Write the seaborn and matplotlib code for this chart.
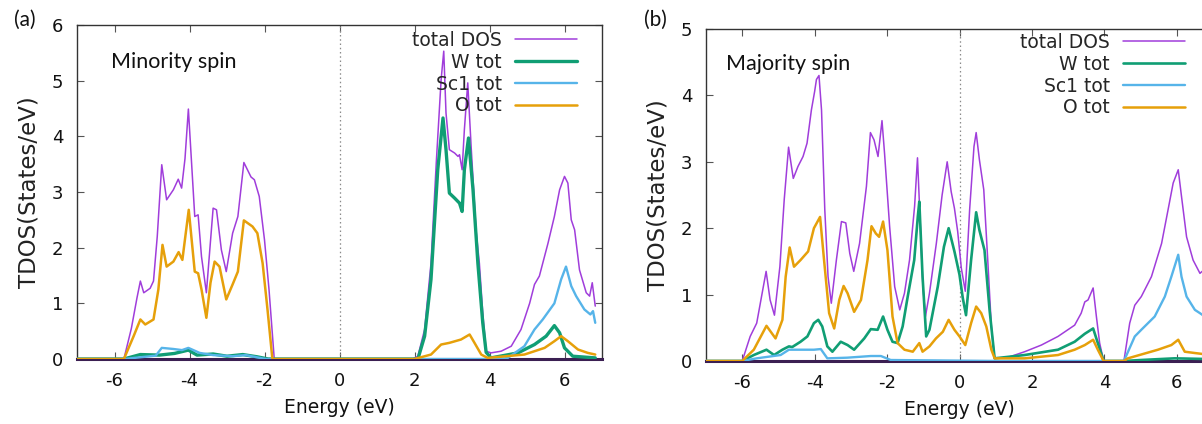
import matplotlib
matplotlib.use("Agg")
import matplotlib.pyplot as plt
import seaborn as sns

# ---------------- data: (a) minority spin ----------------
min_total_x = [-7.0, -5.75, -5.55, -5.40, -5.31, -5.22, -5.05, -4.96, -4.86, -4.74, -4.61, -4.43, -4.30, -4.21,
               -4.12, -4.03, -3.86, -3.77, -3.68, -3.55, -3.37, -3.28, -3.15, -3.02, -2.85, -2.71, -2.55, -2.36,
               -2.27, -2.14, -2.00, -1.88, -1.74, 1.95, 2.09, 2.27, 2.44, 2.58, 2.71, 2.78, 2.84, 2.93, 3.07, 3.16,
               3.20, 3.27, 3.33, 3.42, 3.51, 3.64, 3.73, 3.82, 3.91, 4.04, 4.31, 4.58, 4.84, 5.07, 5.20, 5.33, 5.56,
               5.73, 5.87, 6.00, 6.09, 6.18, 6.27, 6.40, 6.58, 6.67, 6.74, 6.82]
min_total_y = [0, 0, 0.55, 1.10, 1.40, 1.19, 1.27, 1.40, 2.20, 3.49, 2.86, 3.04, 3.23, 3.07,
               3.60, 4.49, 2.56, 2.59, 1.84, 1.19, 2.71, 2.68, 1.96, 1.57, 2.26, 2.56, 3.53, 3.27,
               3.22, 2.92, 2.14, 1.25, 0, 0, 0.05, 0.53, 1.72, 3.52, 5.02, 5.53, 4.42, 3.76, 3.70, 3.64,
               3.67, 3.40, 4.12, 4.96, 3.82, 2.32, 1.72, 0.83, 0.14, 0.11, 0.14, 0.23, 0.53, 1.00, 1.34, 1.49, 2.08,
               2.56, 3.04, 3.28, 3.16, 2.50, 2.32, 1.60, 1.19, 1.13, 1.37, 0.95]

min_w_x = [-7.0, -5.75, -5.31, -4.8, -4.4, -4.03, -3.8, -3.37, -3.0, -2.58, -2.2, -1.9, 1.95, 2.09, 2.27, 2.44,
           2.62, 2.76, 2.84, 2.93, 3.07, 3.20, 3.27, 3.33, 3.44, 3.56, 3.69, 3.82, 3.91, 4.04, 4.76, 5.20, 5.51,
           5.73, 5.87, 6.00, 6.22, 6.82]
min_w_y = [0, 0, 0.08, 0.07, 0.10, 0.16, 0.07, 0.09, 0.05, 0.08, 0.04, 0, 0, 0, 0.41, 1.43,
           3.40, 4.33, 3.76, 2.98, 2.89, 2.80, 2.65, 3.40, 3.97, 3.04, 1.72, 0.65, 0.12, 0.02, 0.11, 0.26, 0.41,
           0.60, 0.47, 0.20, 0.05, 0.02]

min_sc_x = [-7.0, -5.75, -4.9, -4.74, -4.43, -4.2, -4.03, -3.73, -3.37, -2.85, -2.5, -1.97,
            4.3, 4.49, 4.93, 5.20, 5.42, 5.73, 5.91, 6.04, 6.18, 6.31, 6.53, 6.69, 6.76, 6.82]
min_sc_y = [0, 0, 0.06, 0.20, 0.18, 0.16, 0.20, 0.11, 0.07, 0.05, 0.07, 0,
            0, 0.02, 0.23, 0.53, 0.71, 1.00, 1.43, 1.66, 1.31, 1.13, 0.89, 0.80, 0.86, 0.65]

min_o_x = [-7.0, -5.75, -5.49, -5.31, -5.18, -4.96, -4.83, -4.72, -4.61, -4.43, -4.29, -4.19, -4.10, -4.02,
           -3.86, -3.77, -3.68, -3.55, -3.44, -3.33, -3.20, -3.02, -2.85, -2.71, -2.55, -2.32, -2.19, -2.05,
           -1.92, -1.79, 2.0, 2.44, 2.71, 2.93, 3.24, 3.47, 3.60, 3.78, 3.95, 4.93, 5.47, 5.73, 5.91, 6.09,
           6.36, 6.62, 6.82]
min_o_y = [0, 0, 0.41, 0.71, 0.62, 0.71, 1.25, 2.05, 1.66, 1.75, 1.92, 1.78, 2.26, 2.68,
           1.57, 1.54, 1.25, 0.74, 1.37, 1.75, 1.66, 1.07, 1.34, 1.57, 2.49, 2.38, 2.26, 1.72,
           0.89, 0, 0, 0.08, 0.26, 0.29, 0.35, 0.44, 0.29, 0.08, 0.02, 0.08, 0.20, 0.32, 0.41, 0.32,
           0.17, 0.11, 0.08]

# ---------------- data: (b) majority spin ----------------
maj_total_x = [-7.0, -6.0, -5.78, -5.60, -5.34, -5.23, -5.11, -4.96, -4.84, -4.72, -4.59, -4.46, -4.32, -4.21,
               -4.09, -4.00, -3.95, -3.88, -3.81, -3.72, -3.63, -3.54, -3.40, -3.26, -3.14, -3.03, -2.92, -2.76,
               -2.57, -2.46, -2.36, -2.25, -2.14, -2.07, -1.93, -1.79, -1.65, -1.52, -1.38, -1.24, -1.16, -1.10,
               -1.01, -0.94, -0.83, -0.64, -0.48, -0.34, -0.23, -0.14, -0.05, 0.05, 0.16, 0.28, 0.40, 0.46, 0.55,
               0.67, 0.78, 0.88, 0.97, 1.34, 1.80, 2.26, 2.72, 3.18, 3.36, 3.46, 3.55, 3.69, 3.78, 3.87, 3.98,
               4.54, 4.70, 4.84, 5.02, 5.30, 5.58, 5.76, 5.90, 6.04, 6.13, 6.27, 6.45, 6.64, 6.70, 6.80]
maj_total_y = [0, 0, 0.37, 0.57, 1.35, 0.92, 0.69, 1.42, 2.43, 3.22, 2.75, 2.93, 3.08, 3.28,
               3.78, 4.06, 4.24, 4.30, 3.78, 2.28, 1.27, 0.87, 1.52, 2.10, 2.08, 1.62, 1.35, 1.77,
               2.63, 3.44, 3.33, 3.08, 3.62, 3.13, 2.03, 1.12, 0.77, 1.02, 1.52, 2.33, 3.06, 2.28,
               1.12, 0.67, 1.02, 1.77, 2.50, 3.00, 2.55, 2.30, 1.95, 1.40, 1.05, 2.28, 3.23, 3.44, 3.03,
               2.58, 1.52, 0.52, 0.04, 0.055, 0.14, 0.24, 0.37, 0.54, 0.72, 0.89, 0.92, 1.10, 0.67, 0.27, 0,
               0, 0.57, 0.84, 0.97, 1.27, 1.77, 2.28, 2.68, 2.88, 2.48, 1.87, 1.52, 1.32, 1.35, 1.28]

maj_w_x = [-7.0, -6.0, -5.68, -5.33, -5.12, -4.89, -4.71, -4.62, -4.39, -4.20, -4.02, -3.90, -3.79, -3.65,
           -3.51, -3.28, -3.09, -2.91, -2.63, -2.45, -2.26, -2.11, -1.99, -1.85, -1.71, -1.57, -1.43, -1.25,
           -1.15, -1.11, -1.02, -0.92, -0.83, -0.60, -0.43, -0.30, -0.14, 0.0, 0.09, 0.18, 0.32, 0.46, 0.55,
           0.69, 0.83, 0.97, 1.80, 2.72, 3.18, 3.46, 3.69, 3.82, 3.98, 4.54, 5.02, 5.94, 6.80]
maj_w_y = [0, 0, 0.09, 0.17, 0.09, 0.17, 0.22, 0.21, 0.29, 0.37, 0.57, 0.62, 0.52, 0.22,
           0.14, 0.29, 0.24, 0.17, 0.34, 0.48, 0.47, 0.67, 0.47, 0.29, 0.27, 0.52, 0.97, 1.52,
           2.18, 2.40, 1.27, 0.37, 0.47, 1.12, 1.72, 2.00, 1.65, 1.30, 0.95, 0.69, 1.52, 2.24, 1.97,
           1.67, 0.77, 0.04, 0.09, 0.17, 0.29, 0.41, 0.49, 0.27, 0, 0, 0.015, 0.04, 0.03]

maj_sc_x = [-7.0, -6.0, -5.6, -4.94, -4.71, -4.02, -3.83, -3.65, -3.1, -2.45, -2.17, -1.9, 1.0,
            4.54, 4.84, 5.02, 5.39, 5.67, 5.85, 6.04, 6.13, 6.27, 6.50, 6.64, 6.80]
maj_sc_y = [0, 0, 0.04, 0.09, 0.17, 0.17, 0.18, 0.04, 0.05, 0.075, 0.075, 0.015, 0,
            0, 0.37, 0.47, 0.67, 0.97, 1.27, 1.60, 1.27, 0.97, 0.77, 0.72, 0.66]

maj_o_x = [-7.0, -6.0, -5.68, -5.33, -5.08, -4.89, -4.80, -4.69, -4.57, -4.39, -4.18, -4.02, -3.85, -3.74,
           -3.60, -3.46, -3.32, -3.20, -3.09, -2.91, -2.72, -2.54, -2.43, -2.31, -2.22, -2.11, -1.99, -1.85,
           -1.71, -1.52, -1.29, -1.11, -1.02, -0.83, -0.65, -0.46, -0.30, -0.14, 0.0, 0.16, 0.32, 0.46, 0.60,
           0.74, 0.88, 0.97, 1.80, 2.72, 3.18, 3.46, 3.69, 3.82, 3.98, 4.54, 4.65, 5.48, 5.85, 6.04, 6.22,
           6.50, 6.80]
maj_o_y = [0, 0, 0.17, 0.53, 0.34, 0.62, 1.27, 1.71, 1.42, 1.52, 1.65, 2.00, 2.17, 1.52,
           0.72, 0.49, 0.92, 1.13, 1.02, 0.74, 0.92, 1.52, 2.03, 1.92, 1.87, 2.10, 1.67, 0.67,
           0.27, 0.17, 0.14, 0.27, 0.14, 0.22, 0.34, 0.44, 0.62, 0.47, 0.37, 0.24, 0.57, 0.82, 0.72,
           0.52, 0.17, 0.04, 0.04, 0.09, 0.17, 0.24, 0.32, 0.17, 0, 0, 0.04, 0.17, 0.24, 0.32, 0.14,
           0.12, 0.10]

series_labels = ["total DOS", "W tot", "Sc1 tot", "O tot"]
series_colors = ["#a03ddb", "#109e74", "#56b4e9", "#e6a00a"]
x_ticks = [-6, -4, -2, 0, 2, 4, 6]
panel_letters = ["(a)", "(b)"]
panel_titles = ["Minority spin", "Majority spin"]

# ---------------- style ----------------
sns.set_theme(style="ticks")
plt.rcParams["font.family"] = ["DejaVu Sans"]
plt.rcParams["axes.linewidth"] = 1.0

W, H = 1202, 424
fig = plt.figure(figsize=(W / 100, H / 100), dpi=100)

def px_rect(x0, y0, x1, y1):
    return [x0 / W, 1 - y1 / H, (x1 - x0) / W, (y1 - y0) / H]

axL = fig.add_axes(px_rect(77, 25, 602, 359))
axR = fig.add_axes(px_rect(706, 29, 1213, 361))

panels = [
    (axL, [(min_total_x, min_total_y), (min_w_x, min_w_y), (min_sc_x, min_sc_y), (min_o_x, min_o_y)],
     [1.1, 2.4, 1.7, 1.8], 6),
    (axR, [(maj_total_x, maj_total_y), (maj_w_x, maj_w_y), (maj_sc_x, maj_sc_y), (maj_o_x, maj_o_y)],
     [1.1, 1.9, 1.7, 1.8], 5),
]

for ax, data, lws, ymax in panels:
    ax.axvline(0, color="#8a8a8a", lw=0.9, ls=(0, (1.2, 2.2)), zorder=1)
    for (xs, ys), lab, col, lw in zip(data, series_labels, series_colors, lws):
        sns.lineplot(x=xs, y=ys, ax=ax, color=col, lw=lw, label=lab,
                     estimator=None, sort=False, zorder=3)
    ax.set_xlim(-7, 7)
    ax.set_ylim(0, ymax)
    ax.set_xticks(x_ticks)
    ax.set_xticklabels([str(t) for t in x_ticks])
    ax.set_yticks(list(range(ymax + 1)))
    ax.tick_params(axis="both", direction="in", length=5, width=0.8, color="#555555",
                   labelsize=13, top=True, right=True, labelcolor="#111111")
    ax.tick_params(axis="x", pad=9)
    ax.tick_params(axis="y", pad=10)
    for s in ["left", "top", "right"]:
        ax.spines[s].set_color("#333333")
        ax.spines[s].set_linewidth(1.0)
    ax.spines["bottom"].set_color("#3b1f52")
    ax.spines["bottom"].set_linewidth(2.2)
    ax.set_xlabel("Energy (eV)", fontsize=13.5, labelpad=6, color="#111111")
    ax.set_ylabel("TDOS(States/eV)", fontsize=16.5, labelpad=8, color="#222222")

axL.legend(loc="upper right", bbox_to_anchor=(577 / W, 1 - 31 / H), bbox_transform=fig.transFigure,
           frameon=False, markerfirst=False, fontsize=13.5, handlelength=3.3, handletextpad=0.7,
           labelspacing=0.15, borderpad=0, borderaxespad=0)
axR.legend(loc="upper right", bbox_to_anchor=(1185 / W, 1 - 33 / H), bbox_transform=fig.transFigure,
           frameon=False, markerfirst=False, fontsize=13.5, handlelength=3.3, handletextpad=0.7,
           labelspacing=0.15, borderpad=0, borderaxespad=0)

axL.text(-6.1, 5.33, panel_titles[0], fontsize=15.5, family=["Lato", "DejaVu Sans"],
         ha="left", va="center", color="#111111")
axR.text(-6.45, 4.48, panel_titles[1], fontsize=15.5, family=["Lato", "DejaVu Sans"],
         ha="left", va="center", color="#111111")

fig.text(25 / W, 1 - 20 / H, panel_letters[0], fontsize=15, family=["Lato", "DejaVu Sans"],
         ha="center", va="center", color="#111111")
fig.text(655 / W, 1 - 20 / H, panel_letters[1], fontsize=15, family=["Lato", "DejaVu Sans"],
         ha="center", va="center", color="#111111")

fig.savefig("out.png", dpi=100)
